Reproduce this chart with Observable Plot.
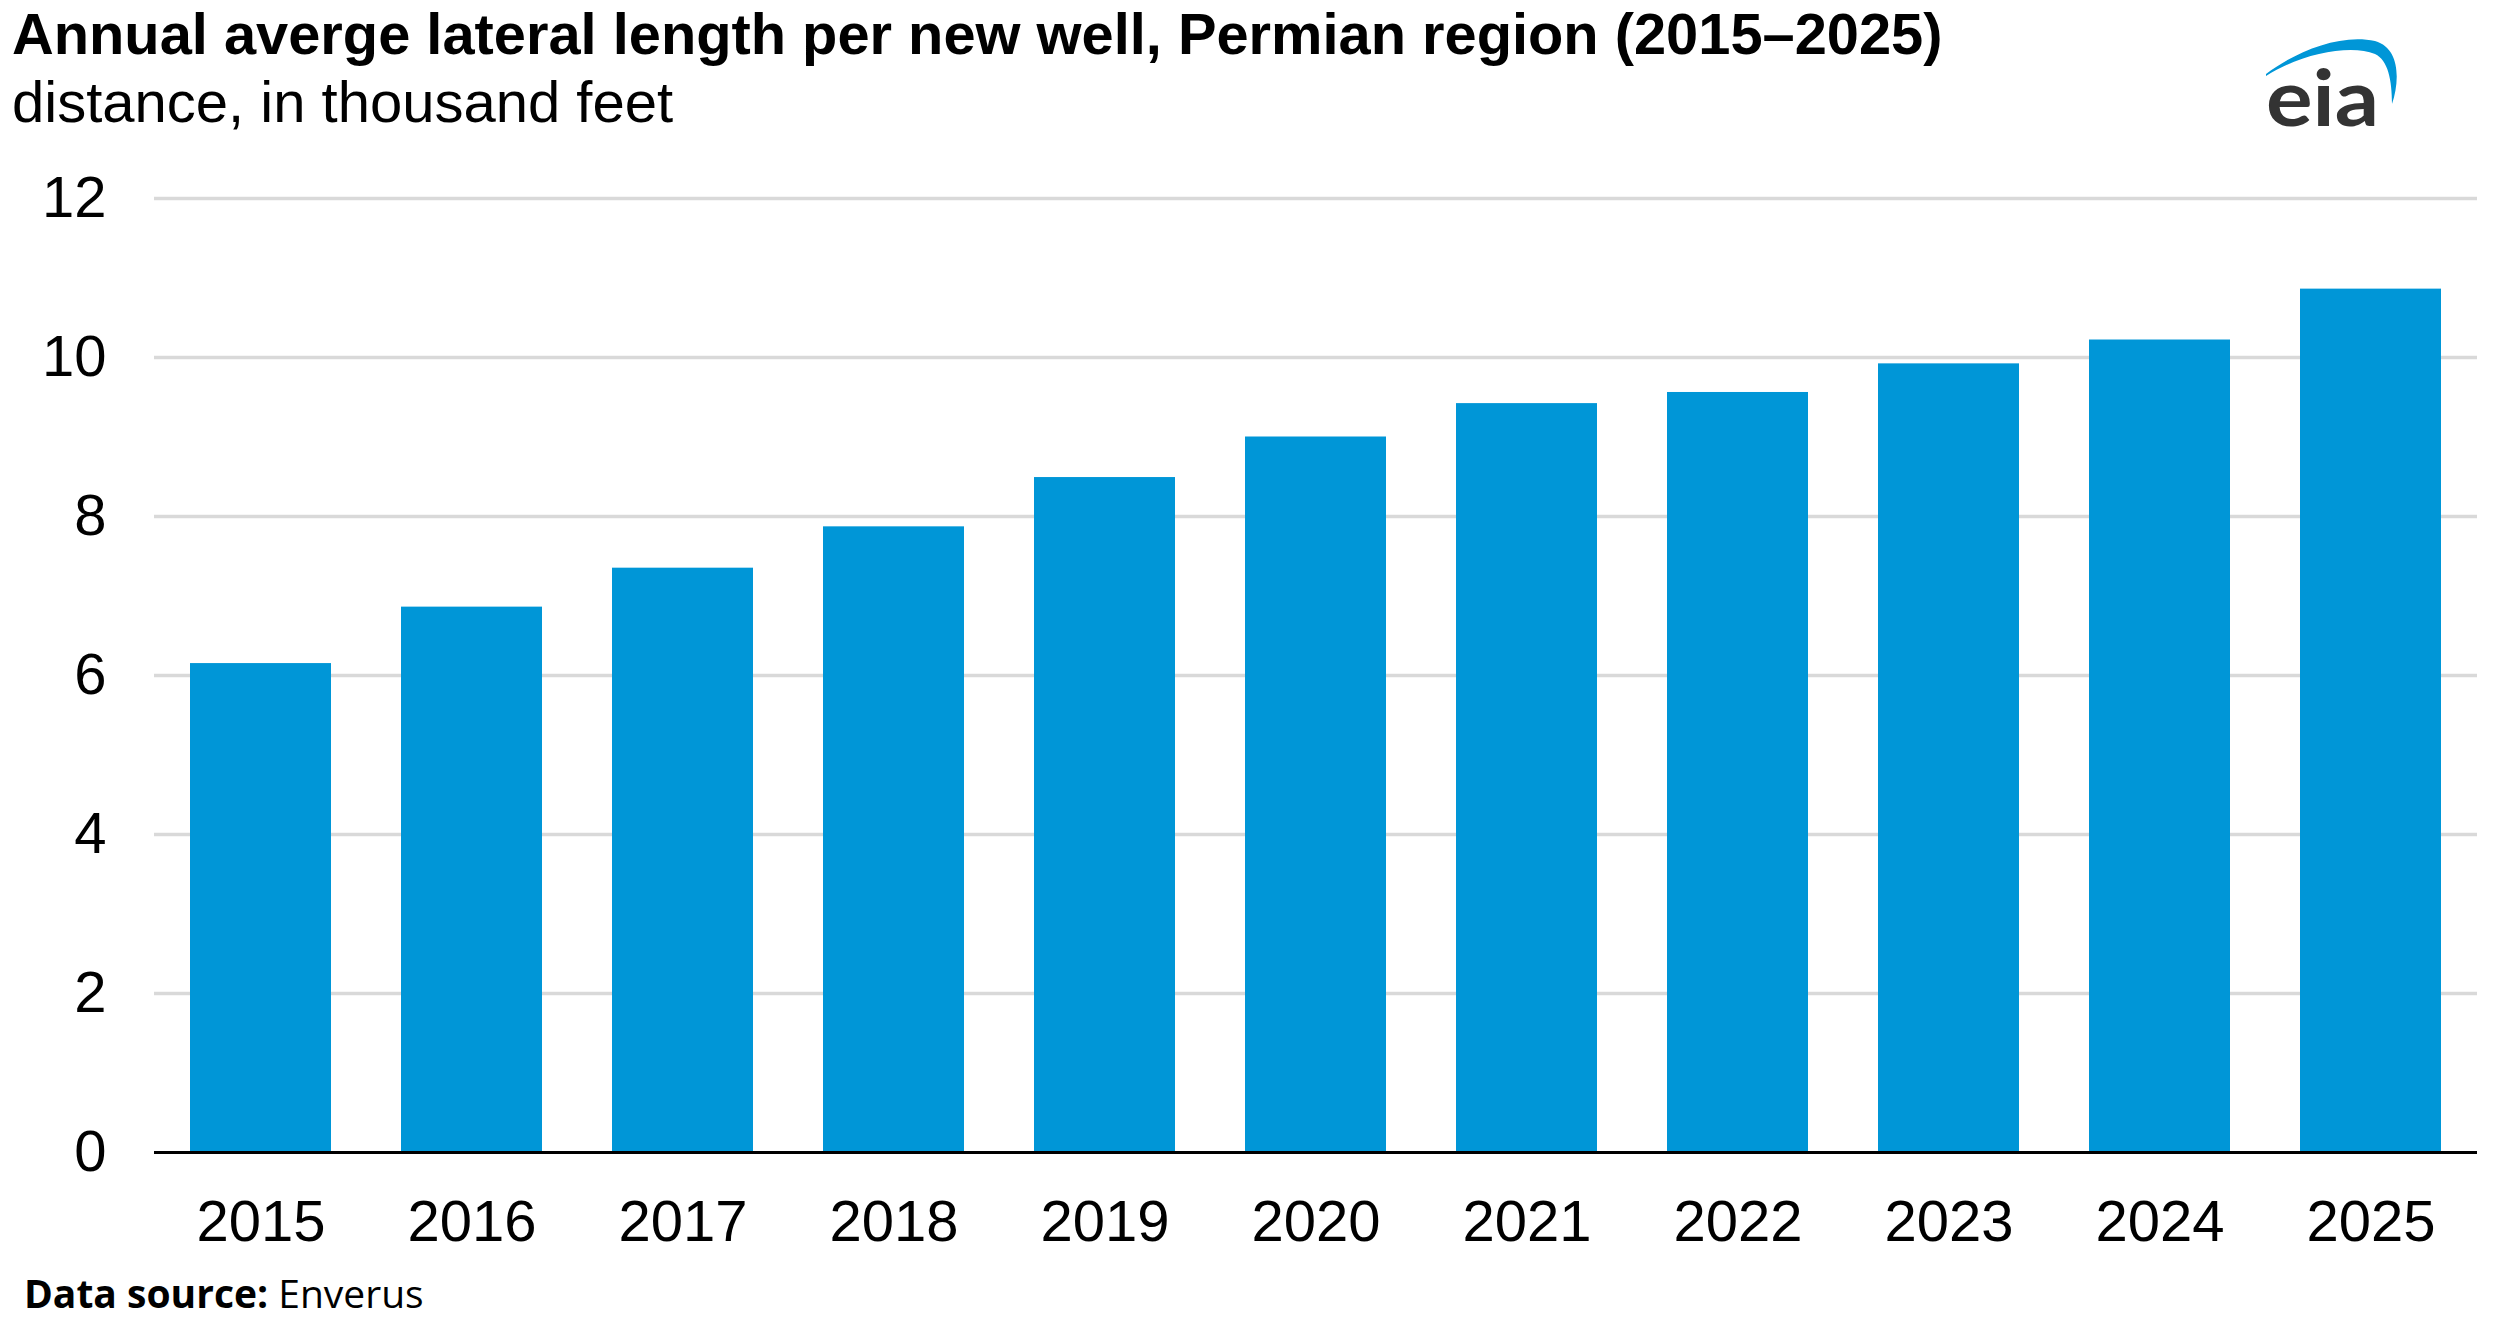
<!DOCTYPE html>
<html>
<head>
<meta charset="utf-8">
<script src="https://cdn.jsdelivr.net/npm/d3@7"></script>
<script src="https://cdn.jsdelivr.net/npm/@observablehq/plot@0.6"></script>
<style>
  html, body { margin: 0; padding: 0; background: #fff; }
  #page { position: relative; width: 2500px; height: 1332px; overflow: hidden; background: #fff; }
  .title { position: absolute; left: 12px; top: 5px; font: bold 57.8px/58px "Liberation Sans", Arial, sans-serif; color: #000; white-space: nowrap; }
  .subtitle { position: absolute; left: 12px; top: 73px; font: 58px/58px "Liberation Sans", Arial, sans-serif; color: #000; white-space: nowrap; }
  .caption { position: absolute; left: 24px; top: 1273px; font: 39px/39px "Open Sans", sans-serif; color: #000; white-space: nowrap; }
  .caption b { font-weight: 700; }
  #chart { position: absolute; left: 0; top: 140px; }
  #logo { position: absolute; left: 2240px; top: 10px; overflow: visible; }
</style>
</head>
<body>
<div id="page">
  <div class="title">Annual averge lateral length per new well, Permian region (2015–2025)</div>
  <div class="subtitle">distance, in thousand feet</div>
  <div id="chart"></div>
  <svg id="logo" width="200" height="150" viewBox="0 0 200 150">
    <path d="M26,64 C55,42 100,23 135,31 C160,38 160,70 152,94 C152,70 148,50 135,44 C110,34 60,44 26,66 Z" fill="#0096d7"/>
    <text x="26" y="116" font-family="Lato, 'Open Sans', sans-serif" font-weight="700" font-size="78" fill="#333333" textLength="113" lengthAdjust="spacingAndGlyphs">eia</text>
  </svg>
  <div class="caption"><b>Data source:</b> Enverus</div>
</div>
<script>
const years = ["2015", "2016", "2017", "2018", "2019", "2020", "2021", "2022", "2023", "2024", "2025"];
const lengths = [6.15, 6.86, 7.35, 7.87, 8.49, 9.00, 9.42, 9.56, 9.92, 10.22, 10.86];
const yTicks = [0, 2, 4, 6, 8, 10, 12];
const gridValues = [2, 4, 6, 8, 10, 12];

const data = years.map((year, i) => ({year, value: lengths[i]}));

const chart = Plot.plot({
  width: 2500,
  height: 1140,
  marginTop: 58,
  marginBottom: 128,
  marginLeft: 154,
  marginRight: 23,
  style: {fontFamily: '"Liberation Sans", Arial, sans-serif', fontSize: "58px", color: "#000", background: "transparent"},
  x: {domain: years, paddingInner: 0.332, paddingOuter: 0.165, label: null},
  y: {domain: [0, 12], label: null},
  marks: [
    Plot.ruleY(gridValues, {stroke: "#d9d9d9", strokeWidth: 3.5}),
    Plot.barY(data, {x: "year", y: "value", fill: "#0096d7"}),
    Plot.ruleY([0], {stroke: "#000", strokeWidth: 3}),
    Plot.axisY({ticks: yTicks, tickSize: 0, tickPadding: 48, fontSize: 58, label: null}),
    Plot.axisX({tickSize: 0, tickPadding: 47, fontSize: 58, label: null})
  ]
});
document.getElementById("chart").appendChild(chart);
</script>
</body>
</html>
